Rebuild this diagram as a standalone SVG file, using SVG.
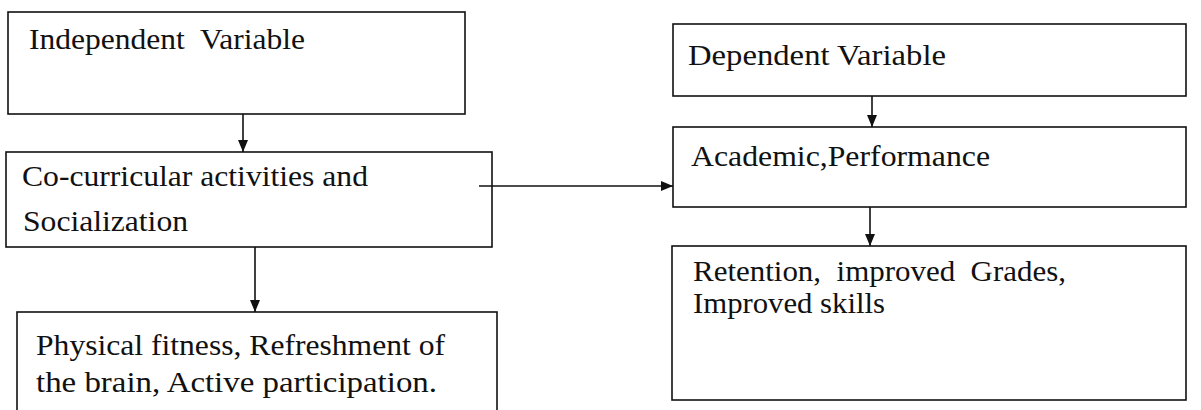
<svg xmlns="http://www.w3.org/2000/svg" width="1201" height="410" viewBox="0 0 1201 410">
<style>
.box{fill:#fff;stroke:#111;stroke-width:1.6}
.t{font-family:"Liberation Serif","Times New Roman",serif;font-size:30px;fill:#111}
.c{stroke:#111;stroke-width:1.6;fill:none}
</style>
<defs>
<marker id="ah" viewBox="0 0 12 12" refX="12" refY="6" markerWidth="12" markerHeight="12" markerUnits="userSpaceOnUse" orient="auto">
<path d="M0,1 L12,6 L0,11 Z" fill="#111"/>
</marker>
</defs>
<rect width="1201" height="410" fill="#fff"/>
<g id="n1"><rect class="box" x="8" y="12" width="457" height="102"/><text class="t" x="29" y="49" xml:space="preserve" textLength="276" lengthAdjust="spacingAndGlyphs">Independent  Variable</text></g>
<g id="n2"><rect class="box" x="6" y="152" width="486" height="95"/><text class="t" x="22" y="186" textLength="346" lengthAdjust="spacingAndGlyphs">Co-curricular activities and</text><text class="t" x="23" y="231" textLength="165" lengthAdjust="spacingAndGlyphs">Socialization</text></g>
<g id="n3"><rect class="box" x="17" y="312" width="480" height="110"/><text class="t" x="36" y="355" textLength="409" lengthAdjust="spacingAndGlyphs">Physical fitness, Refreshment of</text><text class="t" x="36" y="392" textLength="401" lengthAdjust="spacingAndGlyphs">the brain, Active participation.</text></g>
<g id="n4"><rect class="box" x="673" y="24" width="513" height="72"/><text class="t" x="688" y="65" textLength="258" lengthAdjust="spacingAndGlyphs">Dependent Variable</text></g>
<g id="n5"><rect class="box" x="673" y="127" width="513" height="80"/><text class="t" x="691" y="166" textLength="299" lengthAdjust="spacingAndGlyphs">Academic,Performance</text></g>
<g id="n6"><rect class="box" x="672" y="246" width="514" height="154"/><text class="t" x="693" y="281" xml:space="preserve" textLength="373" lengthAdjust="spacingAndGlyphs">Retention,  improved  Grades,</text><text class="t" x="693" y="313" textLength="192" lengthAdjust="spacingAndGlyphs">Improved skills</text></g>
<g id="connectors">
<line class="c" x1="243" y1="114" x2="243" y2="152" marker-end="url(#ah)"/>
<line class="c" x1="255" y1="247" x2="255" y2="312" marker-end="url(#ah)"/>
<line class="c" x1="479" y1="186" x2="673" y2="186" marker-end="url(#ah)"/>
<line class="c" x1="872" y1="96" x2="872" y2="127" marker-end="url(#ah)"/>
<line class="c" x1="870" y1="207" x2="870" y2="246" marker-end="url(#ah)"/>
</g>
</svg>
